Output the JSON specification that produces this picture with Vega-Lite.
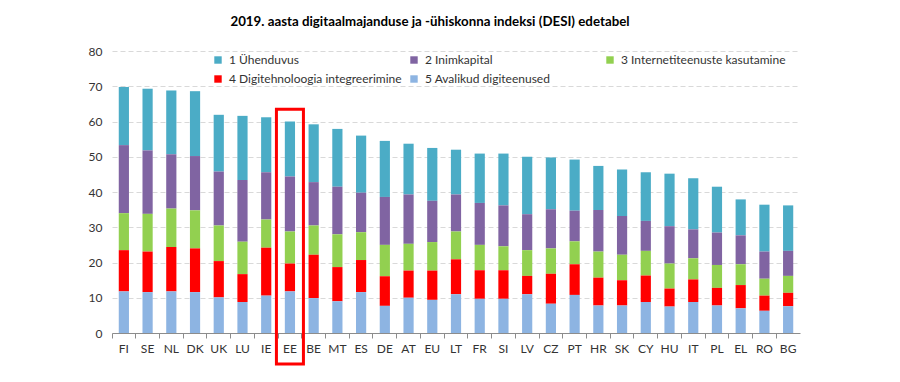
{
  "$schema": "https://vega.github.io/schema/vega-lite/v6.json",
  "autosize": {"type": "none"},
  "width": 688,
  "height": 282,
  "padding": {"left": 112, "top": 51, "right": 100, "bottom": 49},
  "background": "white",
  "config": {
    "font": "Lato",
    "view": {"stroke": null}
  },
  "title": {
    "text": "2019. aasta digitaalmajanduse ja -ühiskonna indeksi (DESI) edetabel",
    "fontSize": 13.3,
    "fontWeight": "bold",
    "font": "Lato",
    "color": "#000000",
    "anchor": "middle",
    "dx": -26,
    "offset": 17
  },
  "datasets": {
    "desi": [
      {"country": "FI", "komponent": "1 Ühenduvus", "value": 16.5},
      {"country": "FI", "komponent": "2 Inimkapital", "value": 19.3},
      {"country": "FI", "komponent": "3 Internetiteenuste kasutamine", "value": 10.5},
      {"country": "FI", "komponent": "4 Digitehnoloogia integreerimine", "value": 11.7},
      {"country": "FI", "komponent": "5 Avalikud digiteenused", "value": 11.8},
      {"country": "SE", "komponent": "1 Ühenduvus", "value": 17.5},
      {"country": "SE", "komponent": "2 Inimkapital", "value": 18.0},
      {"country": "SE", "komponent": "3 Internetiteenuste kasutamine", "value": 10.7},
      {"country": "SE", "komponent": "4 Digitehnoloogia integreerimine", "value": 11.5},
      {"country": "SE", "komponent": "5 Avalikud digiteenused", "value": 11.6},
      {"country": "NL", "komponent": "1 Ühenduvus", "value": 18.1},
      {"country": "NL", "komponent": "2 Inimkapital", "value": 15.4},
      {"country": "NL", "komponent": "3 Internetiteenuste kasutamine", "value": 10.9},
      {"country": "NL", "komponent": "4 Digitehnoloogia integreerimine", "value": 12.6},
      {"country": "NL", "komponent": "5 Avalikud digiteenused", "value": 11.8},
      {"country": "DK", "komponent": "1 Ühenduvus", "value": 18.4},
      {"country": "DK", "komponent": "2 Inimkapital", "value": 15.4},
      {"country": "DK", "komponent": "3 Internetiteenuste kasutamine", "value": 10.8},
      {"country": "DK", "komponent": "4 Digitehnoloogia integreerimine", "value": 12.4},
      {"country": "DK", "komponent": "5 Avalikud digiteenused", "value": 11.6},
      {"country": "UK", "komponent": "1 Ühenduvus", "value": 16.1},
      {"country": "UK", "komponent": "2 Inimkapital", "value": 15.3},
      {"country": "UK", "komponent": "3 Internetiteenuste kasutamine", "value": 10.1},
      {"country": "UK", "komponent": "4 Digitehnoloogia integreerimine", "value": 10.3},
      {"country": "UK", "komponent": "5 Avalikud digiteenused", "value": 10.1},
      {"country": "LU", "komponent": "1 Ühenduvus", "value": 18.2},
      {"country": "LU", "komponent": "2 Inimkapital", "value": 17.5},
      {"country": "LU", "komponent": "3 Internetiteenuste kasutamine", "value": 9.2},
      {"country": "LU", "komponent": "4 Digitehnoloogia integreerimine", "value": 7.9},
      {"country": "LU", "komponent": "5 Avalikud digiteenused", "value": 8.8},
      {"country": "IE", "komponent": "1 Ühenduvus", "value": 15.6},
      {"country": "IE", "komponent": "2 Inimkapital", "value": 13.4},
      {"country": "IE", "komponent": "3 Internetiteenuste kasutamine", "value": 8.0},
      {"country": "IE", "komponent": "4 Digitehnoloogia integreerimine", "value": 13.6},
      {"country": "IE", "komponent": "5 Avalikud digiteenused", "value": 10.6},
      {"country": "EE", "komponent": "1 Ühenduvus", "value": 15.6},
      {"country": "EE", "komponent": "2 Inimkapital", "value": 15.6},
      {"country": "EE", "komponent": "3 Internetiteenuste kasutamine", "value": 9.1},
      {"country": "EE", "komponent": "4 Digitehnoloogia integreerimine", "value": 7.9},
      {"country": "EE", "komponent": "5 Avalikud digiteenused", "value": 11.8},
      {"country": "BE", "komponent": "1 Ühenduvus", "value": 16.4},
      {"country": "BE", "komponent": "2 Inimkapital", "value": 12.3},
      {"country": "BE", "komponent": "3 Internetiteenuste kasutamine", "value": 8.3},
      {"country": "BE", "komponent": "4 Digitehnoloogia integreerimine", "value": 12.3},
      {"country": "BE", "komponent": "5 Avalikud digiteenused", "value": 9.9},
      {"country": "MT", "komponent": "1 Ühenduvus", "value": 16.4},
      {"country": "MT", "komponent": "2 Inimkapital", "value": 13.5},
      {"country": "MT", "komponent": "3 Internetiteenuste kasutamine", "value": 9.3},
      {"country": "MT", "komponent": "4 Digitehnoloogia integreerimine", "value": 9.7},
      {"country": "MT", "komponent": "5 Avalikud digiteenused", "value": 9.0},
      {"country": "ES", "komponent": "1 Ühenduvus", "value": 16.2},
      {"country": "ES", "komponent": "2 Inimkapital", "value": 11.2},
      {"country": "ES", "komponent": "3 Internetiteenuste kasutamine", "value": 7.9},
      {"country": "ES", "komponent": "4 Digitehnoloogia integreerimine", "value": 9.1},
      {"country": "ES", "komponent": "5 Avalikud digiteenused", "value": 11.6},
      {"country": "DE", "komponent": "1 Ühenduvus", "value": 15.9},
      {"country": "DE", "komponent": "2 Inimkapital", "value": 13.6},
      {"country": "DE", "komponent": "3 Internetiteenuste kasutamine", "value": 8.9},
      {"country": "DE", "komponent": "4 Digitehnoloogia integreerimine", "value": 8.4},
      {"country": "DE", "komponent": "5 Avalikud digiteenused", "value": 7.7},
      {"country": "AT", "komponent": "1 Ühenduvus", "value": 14.4},
      {"country": "AT", "komponent": "2 Inimkapital", "value": 14.0},
      {"country": "AT", "komponent": "3 Internetiteenuste kasutamine", "value": 7.6},
      {"country": "AT", "komponent": "4 Digitehnoloogia integreerimine", "value": 7.7},
      {"country": "AT", "komponent": "5 Avalikud digiteenused", "value": 10.0},
      {"country": "EU", "komponent": "1 Ühenduvus", "value": 15.0},
      {"country": "EU", "komponent": "2 Inimkapital", "value": 11.7},
      {"country": "EU", "komponent": "3 Internetiteenuste kasutamine", "value": 8.1},
      {"country": "EU", "komponent": "4 Digitehnoloogia integreerimine", "value": 8.3},
      {"country": "EU", "komponent": "5 Avalikud digiteenused", "value": 9.4},
      {"country": "LT", "komponent": "1 Ühenduvus", "value": 12.7},
      {"country": "LT", "komponent": "2 Inimkapital", "value": 10.5},
      {"country": "LT", "komponent": "3 Internetiteenuste kasutamine", "value": 7.9},
      {"country": "LT", "komponent": "4 Digitehnoloogia integreerimine", "value": 9.9},
      {"country": "LT", "komponent": "5 Avalikud digiteenused", "value": 11.0},
      {"country": "FR", "komponent": "1 Ühenduvus", "value": 14.0},
      {"country": "FR", "komponent": "2 Inimkapital", "value": 11.9},
      {"country": "FR", "komponent": "3 Internetiteenuste kasutamine", "value": 7.2},
      {"country": "FR", "komponent": "4 Digitehnoloogia integreerimine", "value": 8.1},
      {"country": "FR", "komponent": "5 Avalikud digiteenused", "value": 9.7},
      {"country": "SI", "komponent": "1 Ühenduvus", "value": 14.7},
      {"country": "SI", "komponent": "2 Inimkapital", "value": 11.6},
      {"country": "SI", "komponent": "3 Internetiteenuste kasutamine", "value": 6.8},
      {"country": "SI", "komponent": "4 Digitehnoloogia integreerimine", "value": 8.1},
      {"country": "SI", "komponent": "5 Avalikud digiteenused", "value": 9.7},
      {"country": "LV", "komponent": "1 Ühenduvus", "value": 16.3},
      {"country": "LV", "komponent": "2 Inimkapital", "value": 10.2},
      {"country": "LV", "komponent": "3 Internetiteenuste kasutamine", "value": 7.3},
      {"country": "LV", "komponent": "4 Digitehnoloogia integreerimine", "value": 5.2},
      {"country": "LV", "komponent": "5 Avalikud digiteenused", "value": 11.0},
      {"country": "CZ", "komponent": "1 Ühenduvus", "value": 14.7},
      {"country": "CZ", "komponent": "2 Inimkapital", "value": 11.1},
      {"country": "CZ", "komponent": "3 Internetiteenuste kasutamine", "value": 7.2},
      {"country": "CZ", "komponent": "4 Digitehnoloogia integreerimine", "value": 8.5},
      {"country": "CZ", "komponent": "5 Avalikud digiteenused", "value": 8.3},
      {"country": "PT", "komponent": "1 Ühenduvus", "value": 14.5},
      {"country": "PT", "komponent": "2 Inimkapital", "value": 8.7},
      {"country": "PT", "komponent": "3 Internetiteenuste kasutamine", "value": 6.5},
      {"country": "PT", "komponent": "4 Digitehnoloogia integreerimine", "value": 8.7},
      {"country": "PT", "komponent": "5 Avalikud digiteenused", "value": 10.8},
      {"country": "HR", "komponent": "1 Ühenduvus", "value": 12.5},
      {"country": "HR", "komponent": "2 Inimkapital", "value": 11.8},
      {"country": "HR", "komponent": "3 Internetiteenuste kasutamine", "value": 7.4},
      {"country": "HR", "komponent": "4 Digitehnoloogia integreerimine", "value": 7.9},
      {"country": "HR", "komponent": "5 Avalikud digiteenused", "value": 7.8},
      {"country": "SK", "komponent": "1 Ühenduvus", "value": 13.2},
      {"country": "SK", "komponent": "2 Inimkapital", "value": 11.0},
      {"country": "SK", "komponent": "3 Internetiteenuste kasutamine", "value": 7.2},
      {"country": "SK", "komponent": "4 Digitehnoloogia integreerimine", "value": 7.2},
      {"country": "SK", "komponent": "5 Avalikud digiteenused", "value": 7.8},
      {"country": "CY", "komponent": "1 Ühenduvus", "value": 13.8},
      {"country": "CY", "komponent": "2 Inimkapital", "value": 8.5},
      {"country": "CY", "komponent": "3 Internetiteenuste kasutamine", "value": 7.0},
      {"country": "CY", "komponent": "4 Digitehnoloogia integreerimine", "value": 7.5},
      {"country": "CY", "komponent": "5 Avalikud digiteenused", "value": 8.8},
      {"country": "HU", "komponent": "1 Ühenduvus", "value": 14.9},
      {"country": "HU", "komponent": "2 Inimkapital", "value": 10.6},
      {"country": "HU", "komponent": "3 Internetiteenuste kasutamine", "value": 7.1},
      {"country": "HU", "komponent": "4 Digitehnoloogia integreerimine", "value": 5.1},
      {"country": "HU", "komponent": "5 Avalikud digiteenused", "value": 7.5},
      {"country": "IT", "komponent": "1 Ühenduvus", "value": 14.5},
      {"country": "IT", "komponent": "2 Inimkapital", "value": 8.2},
      {"country": "IT", "komponent": "3 Internetiteenuste kasutamine", "value": 6.0},
      {"country": "IT", "komponent": "4 Digitehnoloogia integreerimine", "value": 6.4},
      {"country": "IT", "komponent": "5 Avalikud digiteenused", "value": 8.8},
      {"country": "PL", "komponent": "1 Ühenduvus", "value": 13.0},
      {"country": "PL", "komponent": "2 Inimkapital", "value": 9.2},
      {"country": "PL", "komponent": "3 Internetiteenuste kasutamine", "value": 6.5},
      {"country": "PL", "komponent": "4 Digitehnoloogia integreerimine", "value": 5.0},
      {"country": "PL", "komponent": "5 Avalikud digiteenused", "value": 7.8},
      {"country": "EL", "komponent": "1 Ühenduvus", "value": 10.2},
      {"country": "EL", "komponent": "2 Inimkapital", "value": 8.2},
      {"country": "EL", "komponent": "3 Internetiteenuste kasutamine", "value": 5.9},
      {"country": "EL", "komponent": "4 Digitehnoloogia integreerimine", "value": 6.6},
      {"country": "EL", "komponent": "5 Avalikud digiteenused", "value": 7.0},
      {"country": "RO", "komponent": "1 Ühenduvus", "value": 13.3},
      {"country": "RO", "komponent": "2 Inimkapital", "value": 7.7},
      {"country": "RO", "komponent": "3 Internetiteenuste kasutamine", "value": 4.8},
      {"country": "RO", "komponent": "4 Digitehnoloogia integreerimine", "value": 4.3},
      {"country": "RO", "komponent": "5 Avalikud digiteenused", "value": 6.3},
      {"country": "BG", "komponent": "1 Ühenduvus", "value": 12.9},
      {"country": "BG", "komponent": "2 Inimkapital", "value": 7.1},
      {"country": "BG", "komponent": "3 Internetiteenuste kasutamine", "value": 4.8},
      {"country": "BG", "komponent": "4 Digitehnoloogia integreerimine", "value": 3.8},
      {"country": "BG", "komponent": "5 Avalikud digiteenused", "value": 7.6}
    ],
    "highlight": [
      {"country": "EE", "top": 63.5, "bottom": -8.8}
    ]
  },
  "layer": [
    {
      "data": {"name": "desi"},
      "mark": {"type": "bar", "width": {"band": 0.43}},
      "encoding": {
        "x": {
          "field": "country",
          "type": "nominal",
          "sort": null,
          "scale": {
            "domain": ["FI","SE","NL","DK","UK","LU","IE","EE","BE","MT","ES","DE","AT","EU","LT","FR","SI","LV","CZ","PT","HR","SK","CY","HU","IT","PL","EL","RO","BG"],
            "paddingInner": 0,
            "paddingOuter": 0
          },
          "axis": {
            "title": null,
            "labelAngle": 0,
            "labelFontSize": 12,
            "labelColor": "#333333",
            "labelFont": "Lato",
            "domainColor": "#8c8c8c",
            "tickColor": "#8c8c8c",
            "tickSize": 5,
            "bandPosition": 0,
            "labelPadding": 5,
            "grid": false
          }
        },
        "y": {
          "field": "value",
          "type": "quantitative",
          "aggregate": "sum",
          "stack": "zero",
          "scale": {"domain": [0, 80], "nice": false},
          "axis": {
            "title": null,
            "values": [0,10,20,30,40,50,60,70,80],
            "tickCount": 12,
            "domain": false,
            "ticks": false,
            "labelFontSize": 12,
            "labelColor": "#333333",
            "labelFont": "Lato",
            "labelPadding": 10,
            "gridColor": "#d9d9d9",
            "gridDash": [5, 3]
          }
        },
        "color": {
          "field": "komponent",
          "type": "nominal",
          "scale": {
            "domain": ["1 Ühenduvus","2 Inimkapital","3 Internetiteenuste kasutamine","4 Digitehnoloogia integreerimine","5 Avalikud digiteenused"],
            "range": ["#4BACC6","#8064A2","#92D050","#FF0000","#8DB4E2"]
          },
          "legend": {
            "title": null,
            "orient": "none",
            "legendX": 100,
            "legendY": 3,
            "direction": "horizontal",
            "columns": 3,
            "symbolType": "square",
            "symbolSize": 55,
            "symbolStrokeWidth": 0,
            "labelFontSize": 12,
            "labelFont": "Lato",
            "labelColor": "#333333",
            "labelLimit": 300,
            "labelOffset": 5,
            "columnPadding": 6,
            "rowPadding": 7,
            "gridAlign": "all"
          }
        },
        "order": {"field": "komponent", "sort": "descending"}
      }
    },
    {
      "data": {"name": "highlight"},
      "mark": {"type": "bar", "width": 27, "fill": null, "fillOpacity": 0, "stroke": "#FF0000", "strokeWidth": 3, "clip": false},
      "encoding": {
        "x": {
          "field": "country",
          "type": "nominal",
          "sort": null,
          "axis": {
            "title": null,
            "labelAngle": 0,
            "labelFontSize": 12,
            "labelColor": "#333333",
            "labelFont": "Lato",
            "domainColor": "#8c8c8c",
            "tickColor": "#8c8c8c",
            "tickSize": 5,
            "bandPosition": 0,
            "labelPadding": 5,
            "grid": false
          }
        },
        "y": {
          "field": "top",
          "type": "quantitative",
          "axis": {
            "title": null,
            "values": [0,10,20,30,40,50,60,70,80],
            "tickCount": 12,
            "domain": false,
            "ticks": false,
            "labelFontSize": 12,
            "labelColor": "#333333",
            "labelFont": "Lato",
            "labelPadding": 10,
            "gridColor": "#d9d9d9",
            "gridDash": [5, 3]
          }
        },
        "y2": {"field": "bottom"}
      }
    }
  ]
}
